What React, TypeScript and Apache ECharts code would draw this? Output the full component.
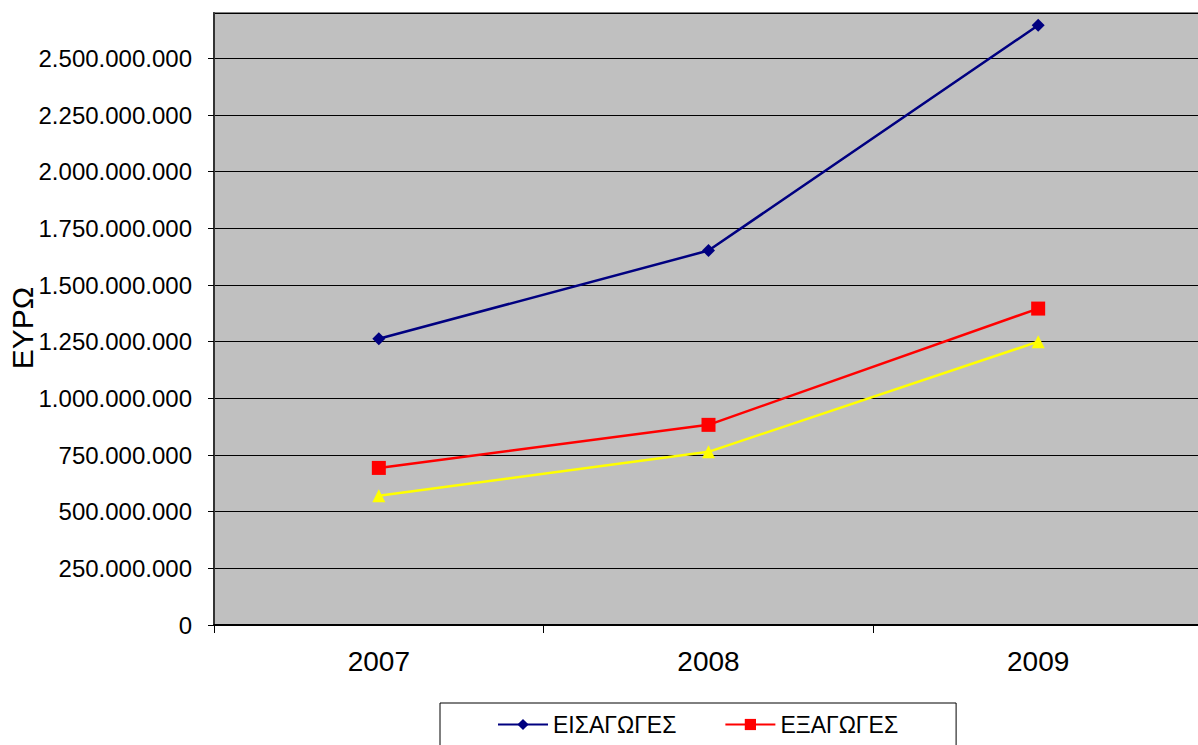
import React, { useEffect, useRef } from "react";
import * as echarts from "echarts";

const years = ["2007", "2008", "2009"];
const imports = [1263000000, 1652000000, 2646000000];
const exportsVals = [693000000, 883000000, 1396000000];
const third = [570000000, 764000000, 1250000000];
const seriesNames = ["ΕΙΣΑΓΩΓΕΣ", "ΕΞΑΓΩΓΕΣ", "ΙΣΟΖΥΓΙΟ"];
const yTitle = "ΕΥΡΩ";

const fmt = (v: number) =>
  String(Math.round(v)).replace(/\B(?=(\d{3})+(?!\d))/g, ".");

export default function App() {
  const ref = useRef<HTMLDivElement>(null);
  useEffect(() => {
    const chart = echarts.init(ref.current!, null, { renderer: "svg" });
    const font = "'Liberation Sans', Arial, sans-serif";
    chart.setOption({
      animation: false,
      backgroundColor: "#ffffff",
      textStyle: { fontFamily: font },
      grid: {
        left: 214,
        right: 7,
        top: 13,
        bottom: 120,
        show: true,
        backgroundColor: "#c0c0c0",
        borderColor: "#808080",
        borderWidth: 2,
      },
      legend: {
        data: [seriesNames[0], seriesNames[1]],
        left: 440,
        top: 703,
        itemWidth: 50,
        itemHeight: 14,
        itemGap: 48,
        padding: [10, 58, 30, 57],
        borderColor: "#000",
        borderWidth: 1,
        textStyle: { fontSize: 23, color: "#000", fontFamily: font },
      },
      xAxis: {
        type: "category",
        data: years,
        boundaryGap: true,
        axisLine: { lineStyle: { color: "#000", width: 2 } },
        axisTick: { show: true, length: 8, lineStyle: { color: "#000" } },
        axisLabel: {
          fontSize: 28,
          color: "#000",
          margin: 22,
          fontFamily: font,
        },
        splitLine: { show: false },
      },
      yAxis: {
        type: "value",
        min: 0,
        max: 2700000000,
        interval: 250000000,
        axisLine: { show: true, lineStyle: { color: "#333", width: 2 } },
        axisTick: { show: true, length: 6, lineStyle: { color: "#000" } },
        axisLabel: {
          fontSize: 24,
          color: "#000",
          margin: 22,
          fontFamily: font,
          showMaxLabel: false,
          formatter: (v: number) => (v % 250000000 === 0 ? fmt(v) : ""),
        },
        splitLine: { show: true, lineStyle: { color: "#000", width: 1 } },
      },
      graphic: [
        {
          type: "text",
          x: 22,
          y: 328,
          rotation: Math.PI / 2,
          style: {
            text: yTitle,
            fontSize: 30,
            fill: "#000",
            fontFamily: font,
            align: "center",
            verticalAlign: "middle",
          },
        },
      ],
      series: [
        {
          name: seriesNames[0],
          type: "line",
          data: imports,
          symbol: "diamond",
          symbolSize: 13,
          lineStyle: { color: "#000080", width: 2.5 },
          itemStyle: { color: "#000080" },
        },
        {
          name: seriesNames[1],
          type: "line",
          data: exportsVals,
          symbol: "rect",
          symbolSize: 14,
          lineStyle: { color: "#ff0000", width: 2.5 },
          itemStyle: { color: "#ff0000" },
        },
        {
          name: seriesNames[2],
          type: "line",
          data: third,
          symbol: "triangle",
          symbolSize: 13,
          lineStyle: { color: "#ffff00", width: 2.5 },
          itemStyle: { color: "#ffff00" },
        },
      ],
    });
    return () => chart.dispose();
  }, []);
  return (
    <div
      ref={ref}
      style={{ position: "fixed", left: 0, top: 0, width: 1210, height: 745 }}
    />
  );
}
